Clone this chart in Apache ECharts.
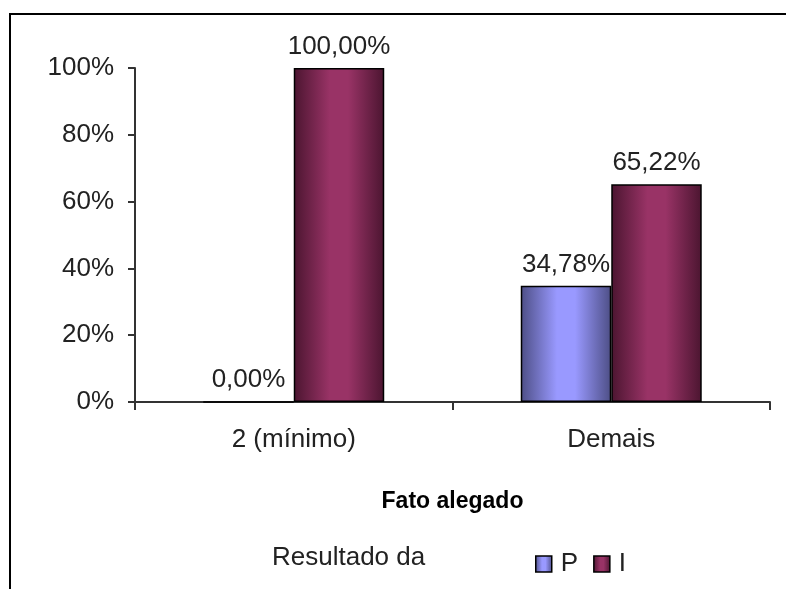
<!DOCTYPE html>
<html>
<head>
<meta charset="utf-8">
<script src="https://cdn.jsdelivr.net/npm/echarts@6/dist/echarts.min.js"></script>
<style>
  html, body { margin: 0; padding: 0; background: #fff; }
  #chart { width: 786px; height: 589px; }
</style>
</head>
<body>
<div id="chart"></div>
<script>
var categories = ["2 (mínimo)", "Demais"];
var seriesNames = ["P", "I"];
var valuesP = [0, 34.78];
var valuesI = [100, 65.22];
var yTicks = [0, 20, 40, 60, 80, 100];

var font = "Liberation Sans";

function barGradient(edge, mid) {
  return new echarts.graphic.LinearGradient(0, 0, 1, 0, [
    { offset: 0, color: edge },
    { offset: 0.4, color: mid },
    { offset: 0.6, color: mid },
    { offset: 1, color: edge }
  ]);
}

function pctLabel(p) {
  return p.value.toFixed(2).replace(".", ",") + "%";
}

var myChart = echarts.init(document.getElementById("chart"));
var option = {
  backgroundColor: "#fff",
  animation: false,
  textStyle: { fontFamily: font },
  graphic: [
    {
      type: "rect",
      shape: { x: 10, y: 14, width: 820, height: 620 },
      style: { fill: "none", stroke: "#000", lineWidth: 2 }
    },
    {
      type: "text",
      left: 272,
      top: 545,
      style: { text: "Resultado da", font: "26px " + font, fill: "#222" }
    }
  ],
  grid: { left: 135, right: 16, top: 68, bottom: 187 },
  legend: {
    data: seriesNames,
    left: 530,
    top: 546,
    icon: "rect",
    itemWidth: 16,
    itemHeight: 16,
    itemGap: 15,
    itemStyle: { borderColor: "#000", borderWidth: 1.5 },
    textStyle: { fontSize: 26, color: "#222", fontFamily: font, padding: [0, 0, 0, 4] }
  },
  xAxis: {
    type: "category",
    data: categories,
    name: "Fato alegado",
    nameLocation: "middle",
    nameGap: 88,
    nameTextStyle: { fontSize: 23, fontWeight: "bold", color: "#000", fontFamily: font },
    axisLine: { lineStyle: { color: "#333", width: 2 } },
    axisTick: { show: true, interval: 0, length: 8, lineStyle: { color: "#333", width: 2 } },
    axisLabel: { fontSize: 26, color: "#222", margin: 25 }
  },
  yAxis: {
    type: "value",
    min: yTicks[0],
    max: yTicks[yTicks.length - 1],
    interval: 20,
    axisLine: { show: true, lineStyle: { color: "#333", width: 2 } },
    axisTick: { show: true, length: 7, lineStyle: { color: "#333", width: 2 } },
    splitLine: { show: false },
    axisLabel: { formatter: "{value}%", fontSize: 26, color: "#222", margin: 21 }
  },
  series: [
    {
      name: seriesNames[0],
      type: "bar",
      data: valuesP,
      barGap: "0%",
      barCategoryGap: "43%",
      color: "#9999ff",
      itemStyle: { color: barGradient("#4d4e85", "#9999ff"), borderColor: "#000", borderWidth: 1.5 },
      label: { show: true, position: "top", distance: 8, formatter: pctLabel, fontSize: 26, color: "#222" }
    },
    {
      name: seriesNames[1],
      type: "bar",
      data: valuesI,
      color: "#993366",
      itemStyle: { color: barGradient("#4b1530", "#993366"), borderColor: "#000", borderWidth: 1.5 },
      label: { show: true, position: "top", distance: 8, formatter: pctLabel, fontSize: 26, color: "#222" }
    }
  ]
};
myChart.setOption(option);
window.addEventListener("resize", function () {
  myChart.resize();
});
</script>
</body>
</html>
